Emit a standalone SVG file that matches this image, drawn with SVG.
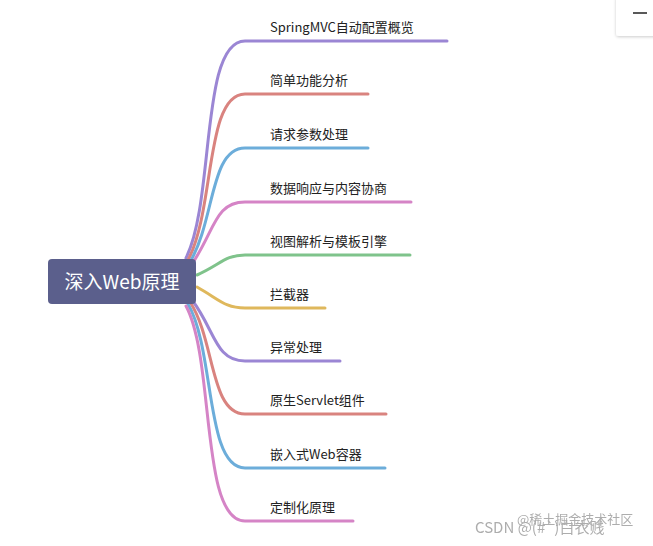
<svg xmlns="http://www.w3.org/2000/svg" width="653" height="546" viewBox="0 0 653 546">
<defs>
<style>
.l{fill:none;stroke-width:3;stroke-linecap:round}
.t{font-family:"Noto Sans CJK SC","Noto Sans",sans-serif;font-size:13px;fill:#222}
.c1{stroke:#9b86d4}.c2{stroke:#d9837f}.c3{stroke:#6cadda}.c4{stroke:#d584c6}.c5{stroke:#7fc38b}.c6{stroke:#dfb85c}
</style>
<filter id="sh"><feDropShadow dx="0" dy="1" stdDeviation="1.5" flood-opacity="0.2"/></filter>
</defs>
<rect width="653" height="546" fill="#fff"/>
<g id="connectors">
<path class="l c1" d="M186,258 C215,200 200,41 245,41 L447,41"/>
<path class="l c2" d="M188,260 C215,210 205,94 245,94 L368,94"/>
<path class="l c3" d="M190,262 C215,220 210,148 245,148 L368,148"/>
<path class="l c4" d="M192,264 C215,230 215,202 245,202 L411,202"/>
<path class="l c5" d="M197,275 C220,265 225,255 245,255 L410,255"/>
<path class="l c6" d="M197,287 C220,300 225,308 245,308 L325,308"/>
<path class="l c1" d="M192,300 C215,330 215,361 245,361 L340,361"/>
<path class="l c2" d="M190,302 C215,340 210,414 245,414 L386,414"/>
<path class="l c3" d="M188,304 C215,350 205,468 245,468 L385,468"/>
<path class="l c4" d="M186,306 C215,360 200,521 245,521 L353,521"/>
</g>
<g id="root">
<rect x="48" y="259" width="148" height="45" rx="4" fill="#5b5f8c"/>
<text x="122" y="289" text-anchor="middle" font-family="Noto Sans CJK SC,sans-serif" font-size="19" fill="#fff">深入Web原理</text>
</g>
<g id="n1"><text class="t" x="270" y="32">SpringMVC自动配置概览</text></g>
<g id="n2"><text class="t" x="270" y="85">简单功能分析</text></g>
<g id="n3"><text class="t" x="270" y="139">请求参数处理</text></g>
<g id="n4"><text class="t" x="270" y="193">数据响应与内容协商</text></g>
<g id="n5"><text class="t" x="270" y="246">视图解析与模板引擎</text></g>
<g id="n6"><text class="t" x="270" y="299">拦截器</text></g>
<g id="n7"><text class="t" x="270" y="352">异常处理</text></g>
<g id="n8"><text class="t" x="270" y="405">原生Servlet组件</text></g>
<g id="n9"><text class="t" x="270" y="459">嵌入式Web容器</text></g>
<g id="n10"><text class="t" x="270" y="512">定制化原理</text></g>
<g id="ui">
<rect x="616" y="-4" width="42" height="40" rx="3" fill="#fff" filter="url(#sh)"/>
<line x1="633" y1="13" x2="647" y2="13" stroke="#222" stroke-width="1.5"/>
</g>
<g id="wm" font-family="Noto Sans CJK SC,sans-serif" fill="#999" opacity="0.8">
<text x="517" y="524" font-size="13">@稀土掘金技术社区</text>
<text x="475" y="533" font-size="15">CSDN @(#`)白衣贱</text>
</g>
</svg>
